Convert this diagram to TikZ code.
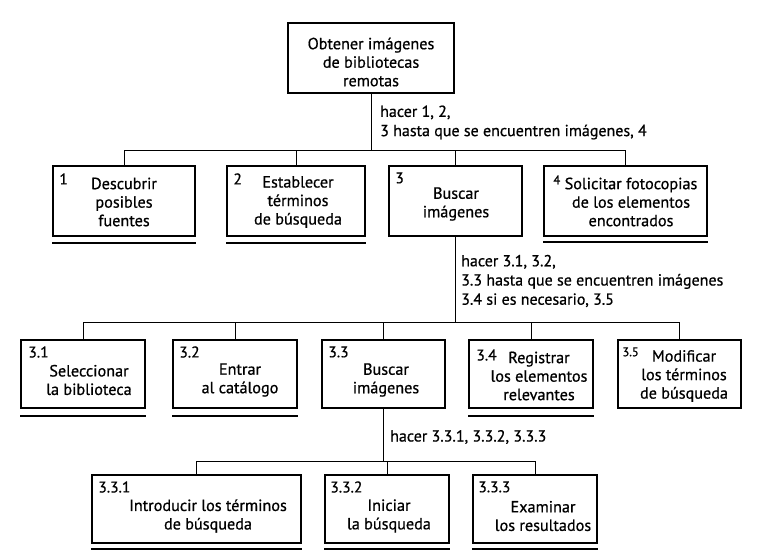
\documentclass[tikz,border=0pt]{standalone}
\usepackage{fontspec}
\setmainfont{PT Sans}[FakeBold=0.7]
\begin{document}
\begin{tikzpicture}[x=1pt,y=-1pt,
  box/.style={draw,line width=1.6pt,inner sep=0pt},
  txt/.style={align=center,inner sep=0pt,font=\fontsize{16.2}{18.5}\selectfont},
  lbl/.style={align=left,anchor=west,inner sep=0pt,font=\fontsize{16}{19.2}\selectfont},
  num/.style={anchor=north west,inner sep=0pt,font=\fontsize{15.5}{15.5}\selectfont},
  smallnum/.style={anchor=north west,inner sep=0pt,font=\fontsize{12.5}{13}\selectfont},
  conn/.style={line width=0.8pt},
  uline/.style={line width=1.8pt}]
\useasboundingbox (0,0) rectangle (765,556);
% root
\node[box,minimum width=166pt,minimum height=70pt] (root) at (371,58) {};
\node[txt] (troot) at (371,62) {Obtener imágenes\\de bibliotecas\\remotas};
% row 1
\node[box,minimum width=142pt,minimum height=70pt] (b1) at (124,201) {};
\node[box,minimum width=138pt,minimum height=70pt] (b2) at (296,201) {};
\node[box,minimum width=133pt,minimum height=70pt] (b3) at (455.5,201) {};
\node[box,minimum width=163pt,minimum height=70pt] (b4) at (625.5,201) {};
\node[txt] (t1) at (124,202) {Descubrir\\posibles\\fuentes};
\node[txt] (t2) at (298,202) {Establecer\\términos\\de búsqueda};
\node[txt] (t3) at (456,204) {Buscar\\imágenes};
\node[txt] (t4) at (631,202) {Solicitar fotocopias\\de los elementos\\encontrados};
\node[num] (n1) at ([xshift=7pt,yshift=-8pt]b1.north west) {1};
\node[num] (n2) at ([xshift=7pt,yshift=-8pt]b2.north west) {2};
\node[num] (n3) at ([xshift=7pt,yshift=-7pt]b3.north west) {3};
\node[smallnum] (n4) at ([xshift=10pt,yshift=-10pt]b4.north west) {4};
% row 1 connectors
\coordinate (bus1) at (372,150);
\draw[conn] (root.south) -- (root.south |- bus1);
\draw[conn] (b1.north) -- (b1.north |- bus1) -- (b4.north |- bus1) -- (b4.north);
\draw[conn] (b2.north) -- (b2.north |- bus1);
\draw[conn] (b3.north) -- (b3.north |- bus1);
\node[lbl] (l1) at (380,122.5) {hacer 1, 2,\\3 hasta que se encuentren imágenes, 4};
% underlines row 1
\draw[uline] ([yshift=-6pt]b1.south west) -- ([yshift=-6pt]b1.south east);
\draw[uline] ([yshift=-6pt]b2.south west) -- ([yshift=-6pt]b2.south east);
\draw[uline] ([yshift=-5pt]b4.south west) -- ([yshift=-5pt]b4.south east);
% row 2
\node[box,minimum width=124pt,minimum height=68pt] (b31) at (83,374) {};
\node[box,minimum width=124pt,minimum height=68pt] (b32) at (235,374) {};
\node[box,minimum width=123pt,minimum height=68pt] (b33) at (383.5,374) {};
\node[box,minimum width=124pt,minimum height=68pt] (b34) at (531,374) {};
\node[box,minimum width=123pt,minimum height=68pt] (b35) at (679.5,374) {};
\node[txt] (t31) at (89,380) {Seleccionar\\la biblioteca};
\node[txt] (t32) at (240,380) {Entrar\\al catálogo};
\node[txt] (t33) at (386,380) {Buscar\\imágenes};
\node[txt] (t34) at (539,376) {Registrar\\los elementos\\relevantes};
\node[txt] (t35) at (684,376) {Modificar\\los términos\\de búsqueda};
\node[num] (n31) at ([xshift=8pt,yshift=-7pt]b31.north west) {3.1};
\node[num] (n32) at ([xshift=7pt,yshift=-7pt]b32.north west) {3.2};
\node[num] (n33) at ([xshift=7pt,yshift=-7pt]b33.north west) {3.3};
\node[num] (n34) at ([xshift=8pt,yshift=-10pt]b34.north west) {3.4};
\node[smallnum] (n35) at ([xshift=5pt,yshift=-8pt]b35.north west) {3.5};
% row 2 connectors
\coordinate (bus2) at (455.5,322);
\draw[conn] (b3.south) -- (b3.south |- bus2);
\draw[conn] (b31.north) -- (b31.north |- bus2) -- (b35.north |- bus2) -- (b35.north);
\draw[conn] (b32.north) -- (b32.north |- bus2);
\draw[conn] (b33.north) -- (b33.north |- bus2);
\draw[conn] (b34.north) -- (b34.north |- bus2);
\node[lbl] (l2) at (461,281) {hacer 3.1, 3.2,\\3.3 hasta que se encuentren imágenes\\3.4 si es necesario, 3.5};
% underlines row 2
\draw[uline] ([yshift=-7pt]b31.south west) -- ([yshift=-7pt]b31.south east);
\draw[uline] ([yshift=-7pt]b32.south west) -- ([yshift=-7pt]b32.south east);
\draw[uline] ([yshift=-7pt]b34.south west) -- ([yshift=-7pt]b34.south east);
% row 3
\node[box,minimum width=209pt,minimum height=68pt] (b331) at (196.5,509) {};
\node[box,minimum width=124pt,minimum height=68pt] (b332) at (387,509) {};
\node[box,minimum width=124pt,minimum height=68pt] (b333) at (535,509) {};
\node[txt] (t331) at (208,516) {Introducir los términos\\de búsqueda};
\node[txt] (t332) at (389,516) {Iniciar\\la búsqueda};
\node[txt] (t333) at (543,516) {Examinar\\los resultados};
\node[num] (n331) at ([xshift=7pt,yshift=-7pt]b331.north west) {3.3.1};
\node[num] (n332) at ([xshift=6pt,yshift=-7pt]b332.north west) {3.3.2};
\node[num] (n333) at ([xshift=6pt,yshift=-7pt]b333.north west) {3.3.3};
% row 3 connectors
\coordinate (bus3) at (383.5,461);
\draw[conn] (b33.south) -- (b33.south |- bus3);
\draw[conn] (b331.north) -- (b331.north |- bus3) -- (b333.north |- bus3) -- (b333.north);
\draw[conn] (b332.north) -- (b332.north |- bus3);
\node[lbl] (l3) at (390,437) {hacer 3.3.1, 3.3.2, 3.3.3};
% underlines row 3
\draw[uline] ([yshift=-5pt]b331.south west) -- ([yshift=-5pt]b331.south east);
\draw[uline] ([yshift=-5pt]b332.south west) -- ([yshift=-5pt]b332.south east);
\draw[uline] ([yshift=-5pt]b333.south west) -- ([yshift=-5pt]b333.south east);
\end{tikzpicture}
\end{document}
